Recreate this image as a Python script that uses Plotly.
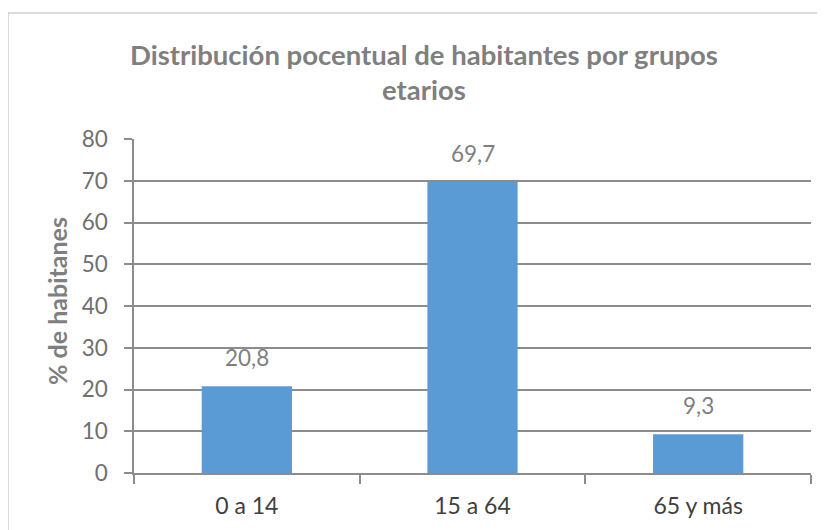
import plotly.graph_objects as go

categories = ["0 a 14", "15 a 64", "65 y más"]
values = [20.8, 69.7, 9.3]
y_ticks = [0, 10, 20, 30, 40, 50, 60, 70, 80]

title_lines = ["Distribución pocentual de habitantes por grupos", "etarios"]
y_title = "% de habitanes"

FONT = "Lato"
GRID = "#8c8c8c"

# figure coordinates (page has an 8px body margin)
W, H = 817, 522
L, R, T, B = 126, 14, 131, 57
PW = W - L - R
PH = H - T - B


def px_to_paper_x(px):
    return (px - L) / PW


def px_to_paper_y(py):
    return (H - B - py) / PH


fig = go.Figure(
    go.Bar(
        x=categories,
        y=values,
        marker=dict(color="#5B9BD5", line=dict(width=0)),
        width=0.4,
        hoverinfo="skip",
    )
)

annotations = []
for cat, v in zip(categories, values):
    annotations.append(
        dict(
            x=cat,
            y=v,
            xref="x",
            yref="y",
            text=f"{v:.1f}".replace(".", ","),
            showarrow=False,
            xanchor="center",
            yanchor="bottom",
            yshift=13,
            font=dict(family=FONT, size=22.5, color="#7f7f7f"),
        )
    )

for i, line in enumerate(title_lines):
    annotations.append(
        dict(
            text=line,
            xref="paper",
            yref="paper",
            x=px_to_paper_x(416),
            y=px_to_paper_y([46, 81][i]),
            xanchor="center",
            yanchor="middle",
            showarrow=False,
            font=dict(family=FONT, size=27.5, color="#7f7f7f", weight="bold"),
        )
    )

annotations.append(
    dict(
        text=y_title,
        textangle=-90,
        xref="paper",
        yref="paper",
        x=px_to_paper_x(49),
        y=px_to_paper_y(293),
        xanchor="center",
        yanchor="middle",
        showarrow=False,
        font=dict(family=FONT, size=25, color="#7f7f7f", weight="bold"),
    )
)

fig.update_layout(
    width=W,
    height=H,
    paper_bgcolor="white",
    plot_bgcolor="white",
    margin=dict(l=L, r=R, t=T, b=B),
    showlegend=False,
    xaxis=dict(
        type="category",
        showgrid=False,
        showline=True,
        linecolor=GRID,
        linewidth=1.5,
        ticks="outside",
        tickson="boundaries",
        ticklen=9,
        tickcolor=GRID,
        tickwidth=1.5,
        ticklabelstandoff=12,
        tickfont=dict(family=FONT, size=23, color="#404040"),
        fixedrange=True,
    ),
    yaxis=dict(
        range=[0, 80],
        tickvals=y_ticks,
        showgrid=True,
        gridcolor=GRID,
        gridwidth=1.5,
        showline=True,
        linecolor=GRID,
        linewidth=1.5,
        ticks="outside",
        ticklen=8,
        tickcolor=GRID,
        tickwidth=1.5,
        ticklabelstandoff=12,
        tickfont=dict(family=FONT, size=22.5, color="#6f6f6f"),
        zeroline=False,
        fixedrange=True,
    ),
    annotations=annotations,
    shapes=[
        dict(
            type="rect",
            xref="paper",
            yref="paper",
            x0=px_to_paper_x(0),
            x1=1.1,
            y0=-0.3,
            y1=px_to_paper_y(5),
            line=dict(color="#d0d0d0", width=1.5),
            fillcolor="rgba(0,0,0,0)",
            layer="below",
        )
    ],
)

fig.write_html("out.html")
